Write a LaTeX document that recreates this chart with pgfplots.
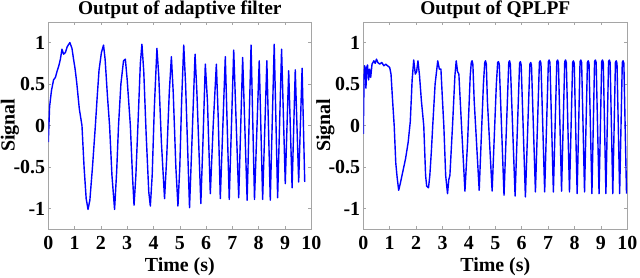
\documentclass[border=0pt]{standalone}
\usepackage{fontspec}
\setmainfont{Liberation Serif}
\usepackage{pgfplots}
\pgfplotsset{compat=1.18}
\definecolor{framegray}{RGB}{165,165,165}
\pgfplotsset{
  sigaxis/.style={
    scale only axis,
    width=263bp, height=207.5bp,
    xmin=0, xmax=10, ymin=-1.25, ymax=1.25,
    xtick={0,1,...,10}, ytick={-1,-0.5,0,0.5,1},
    tick align=inside, major tick length=3bp,
    axis line style={framegray, line width=0.6bp},
    every tick/.style={framegray, line width=0.6bp},
    /pgf/number format/assume math mode=true,
    tick label style={font=\fontsize{20}{24}\selectfont\bfseries, text=black},
    xticklabel style={anchor=north, inner sep=0pt, yshift=-6.5bp},
    yticklabel style={anchor=east, inner sep=0pt, xshift=-3bp},
    every axis title shift=0pt,
    title style={font=\fontsize{19.5}{24}\selectfont\bfseries, at={(0.5,1)}, anchor=base, yshift=7bp, inner sep=0pt},
    xlabel style={font=\fontsize{20}{24}\selectfont\bfseries, at={(0.5,0)}, anchor=base, yshift=-42.5bp, inner sep=0pt},
    ylabel style={font=\fontsize{20}{24}\selectfont\bfseries, anchor=center, inner sep=0pt},
    xlabel={Time (s)}, ylabel={Signal},
  },
  sigline/.style={blue, line width=1.4bp, no marks, line join=round},
}
\begin{document}
\begin{tikzpicture}
\useasboundingbox (0,0) rectangle (640bp,278bp);
\begin{axis}[sigaxis, at={(48.3bp,48.7bp)}, anchor=south west,
  title={Output of adaptive filter},
  ylabel style={at={(-38.3bp,104bp)}}]
\addplot[sigline] coordinates {
(0,-0.2) (0.05,0.23) (0.12,0.42) (0.2,0.55) (0.27,0.58) (0.33,0.65) (0.4,0.72)
(0.46,0.8) (0.52,0.92) (0.58,0.86) (0.65,0.88) (0.72,0.95) (0.82,1.0) (0.9,0.93)
(0.96,0.80) (1.02,0.68) (1.08,0.52) (1.18,0.2) (1.28,0.0) (1.36,-0.5) (1.44,-0.88)
(1.51,-1.01) (1.58,-0.9) (1.68,-0.5) (1.79,0.0) (1.86,0.35) (1.93,0.67) (2.02,0.88)
(2.1,0.97) (2.16,0.8) (2.25,0.35) (2.33,0.0) (2.42,-0.6) (2.52,-1.01) (2.6,-0.55)
(2.67,0.0) (2.76,0.5) (2.86,0.78) (2.93,0.80) (3.0,0.55) (3.12,0.0) (3.2,-0.6)
(3.26,-0.96) (3.33,-0.6) (3.42,0.1) (3.5,0.75) (3.56,0.98) (3.63,0.65) (3.72,-0.1)
(3.82,-0.8) (3.88,-0.97) (3.95,-0.6) (4.03,0.2) (4.13,0.93) (4.2,0.6) (4.3,-0.2)
(4.42,-0.88) (4.5,-0.4) (4.6,0.4) (4.68,0.83) (4.75,0.4) (4.85,-0.5) (4.93,-0.97)
(5.0,-0.5) (5.07,0.3) (5.15,0.97) (5.22,0.5) (5.37,-0.99) (5.45,-0.3) (5.58,0.86)
(5.65,0.4) (5.8,-0.94) (5.88,-0.2) (5.97,0.74) (6.05,0.3) (6.16,-0.82) (6.27,0.0)
(6.39,0.74) (6.46,0.1) (6.54,-0.88) (6.73,0.83) (6.88,-0.89) (7.05,0.91) (7.24,-0.87)
(7.39,0.82) (7.56,-0.90) (7.71,0.97) (7.84,-0.89) (8.02,0.78) (8.15,-0.89) (8.31,0.78)
(8.44,-0.90) (8.59,0.98) (8.72,-0.87) (8.87,0.92) (9.01,-0.70) (9.14,0.66) (9.27,-0.75)
(9.39,0.67) (9.52,-0.68) (9.65,0.69) (9.75,-0.68)
};
\end{axis}
\begin{axis}[sigaxis, at={(363.3bp,48.7bp)}, anchor=south west, width=264bp,
  title={Output of QPLPF},
  ylabel style={at={(-38bp,104bp)}}]
\addplot[sigline] coordinates {
(0,-0.1) (0.03,0.6) (0.05,0.72) (0.08,0.68) (0.1,0.45) (0.13,0.7) (0.16,0.73)
(0.2,0.55) (0.24,0.68) (0.28,0.58) (0.33,0.74) (0.4,0.78) (0.45,0.75) (0.5,0.8)
(0.55,0.76) (0.62,0.74) (0.7,0.76) (0.78,0.72) (0.85,0.74) (0.92,0.72) (1.0,0.7)
(1.05,0.62) (1.1,0.35) (1.17,0.0) (1.23,-0.45) (1.28,-0.62) (1.34,-0.78) (1.4,-0.7)
(1.5,-0.55) (1.6,-0.4) (1.7,-0.2) (1.78,0.05) (1.85,0.55) (1.91,0.79) (1.97,0.62)
(2.02,0.65) (2.07,0.78) (2.13,0.6) (2.2,0.3) (2.29,0.0) (2.36,-0.6) (2.4,-0.73)
(2.47,-0.75) (2.52,-0.6) (2.58,-0.3) (2.63,0.0) (2.72,0.5) (2.82,0.78) (2.88,0.68)
(2.94,0.68) (3.0,0.3) (3.05,0.0) (3.12,-0.6) (3.19,-0.82) (3.24,-0.65) (3.28,-0.6)
(3.38,0.0) (3.47,0.6) (3.52,0.78) (3.57,0.65) (3.62,0.62) (3.72,0.0) (3.85,-0.79)
(3.95,-0.2) (4.05,0.6) (4.09,0.76) (4.12,0.78) (4.15,0.74) (4.2,0.3) (4.39,-0.78)
(4.55,0.5) (4.6,0.76) (4.63,0.78) (4.66,0.74) (4.7,0.3) (4.88,-0.79)
(5.04,0.5) (5.09,0.76) (5.12,0.77) (5.15,0.74) (5.33,-0.84)
(5.51,0.76) (5.54,0.78) (5.57,0.74) (5.75,-0.85)
(5.92,0.75) (5.95,0.77) (5.98,0.73) (6.14,-0.86)
(6.31,0.74) (6.34,0.76) (6.37,0.73) (6.52,-0.80)
(6.67,0.76) (6.70,0.78) (6.73,0.75) (6.87,-0.80)
(7.01,0.77) (7.04,0.79) (7.07,0.76) (7.20,-0.80)
(7.33,0.77) (7.36,0.79) (7.39,0.76) (7.51,-0.79)
(7.63,0.77) (7.66,0.79) (7.69,0.76) (7.81,-0.80)
(7.93,0.76) (7.96,0.78) (7.99,0.75) (8.10,-0.82)
(8.21,0.77) (8.24,0.79) (8.27,0.76) (8.38,-0.80)
(8.49,0.76) (8.52,0.78) (8.55,0.75) (8.66,-0.82)
(8.76,0.77) (8.79,0.79) (8.82,0.76) (8.93,-0.82)
(9.03,0.77) (9.06,0.79) (9.09,0.76) (9.19,-0.82)
(9.29,0.77) (9.32,0.79) (9.35,0.76) (9.45,-0.82)
(9.55,0.76) (9.58,0.78) (9.61,0.75) (9.71,-0.82)
(9.81,0.76) (9.84,0.78) (9.87,0.75) (9.97,-0.82)
};
\end{axis}
\end{tikzpicture}
\end{document}
